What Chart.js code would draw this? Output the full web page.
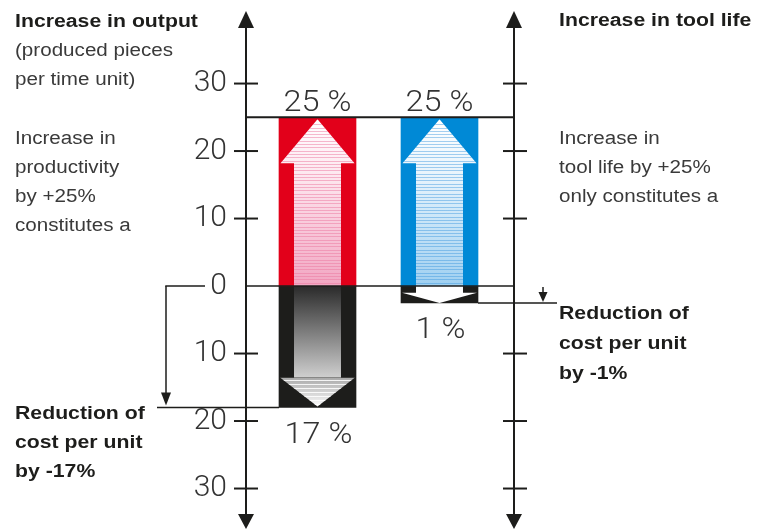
<!DOCTYPE html>
<html><head><meta charset="utf-8">
<script src="https://cdn.jsdelivr.net/npm/chart.js@4.4.1/dist/chart.umd.min.js"></script>
<style>html,body{margin:0;padding:0;background:#fff;}canvas{display:block;}</style>
</head><body>
<canvas id="c" width="763" height="531"></canvas>
<script>
// ---- data ----
const categories = ['Increase in output', 'Increase in tool life'];
const increaseValues = [25, 25];
const reductionValues = [-18, -2.5];
const increaseLabels = ['25 %', '25 %'];
const reductionLabels = ['17 %', '1 %'];
const yTickValues = [30, 20, 10, 0, -10, -20, -30];

const leftTitle = 'Increase in output';
const leftSub = ['(produced pieces', 'per time unit)'];
const leftBody = ['Increase in', 'productivity', 'by +25%', 'constitutes a'];
const rightTitle = 'Increase in tool life';
const rightBody = ['Increase in', 'tool life by +25%', 'only constitutes a'];
const leftResult = ['Reduction of', 'cost per unit', 'by -17%'];
const rightResult = ['Reduction of', 'cost per unit', 'by -1%'];

// ---- styles ----
const RED = '#e2001a', BLUE = '#0089d6', INK = '#1d1d1b', TXT = '#3a3a3a';
const SANS = '"Liberation Sans", Arial, Helvetica, sans-serif';
const NUMFONT = 'Roboto, "Liberation Sans", sans-serif';

function drawText(ctx, str, x, y, font, color, sx) {
  ctx.save();
  ctx.font = font; ctx.fillStyle = color; ctx.textBaseline = 'alphabetic'; ctx.textAlign = 'left';
  ctx.translate(x, y); ctx.scale(sx, 1);
  ctx.fillText(str, 0, 0);
  ctx.restore();
}
function drawCentered(ctx, str, x, y, font, color, sx) {
  ctx.save();
  ctx.font = font; ctx.fillStyle = color; ctx.textBaseline = 'alphabetic'; ctx.textAlign = 'center';
  ctx.translate(x, y); ctx.scale(sx, 1);
  ctx.fillText(str, 0, 0);
  ctx.restore();
}
function seg(ctx, x1, y1, x2, y2, w) {
  ctx.save(); ctx.strokeStyle = INK; ctx.lineWidth = w; ctx.lineCap = 'butt';
  ctx.beginPath(); ctx.moveTo(x1, y1); ctx.lineTo(x2, y2); ctx.stroke(); ctx.restore();
}
function tri(ctx, x1, y1, x2, y2, x3, y3) {
  ctx.save(); ctx.fillStyle = INK; ctx.beginPath();
  ctx.moveTo(x1, y1); ctx.lineTo(x2, y2); ctx.lineTo(x3, y3); ctx.closePath(); ctx.fill(); ctx.restore();
}
function stripes(ctx, x, y1, y2, w, color, step) {
  ctx.fillStyle = color;
  for (let yy = y1 + 1; yy < y2; yy += step) ctx.fillRect(x, Math.round(yy), w, 1);
}

function upArrow(ctx, cx, top, bottom, half, colors, stripeColor) {
  const shaftHalf = half * 0.61, headHalf = half - 1.5, headH = 44;
  ctx.save();
  ctx.beginPath();
  ctx.moveTo(cx, top);
  ctx.lineTo(cx + headHalf, top + headH);
  ctx.lineTo(cx + shaftHalf, top + headH);
  ctx.lineTo(cx + shaftHalf, bottom);
  ctx.lineTo(cx - shaftHalf, bottom);
  ctx.lineTo(cx - shaftHalf, top + headH);
  ctx.lineTo(cx - headHalf, top + headH);
  ctx.closePath();
  ctx.clip();
  const g = ctx.createLinearGradient(0, top, 0, bottom);
  g.addColorStop(0, colors[0]); g.addColorStop(0.35, colors[1]); g.addColorStop(1, colors[2]);
  ctx.fillStyle = g;
  ctx.fillRect(cx - half, top, half * 2, bottom - top);
  stripes(ctx, cx - half, top + 4, bottom, half * 2, stripeColor, 3.3);
  ctx.restore();
}

function downArrow(ctx, cx, top, bottom, half) {
  const h = bottom - top;
  const shaftHalf = half * 0.61, headHalf = half - 1;
  const headH = Math.min(30, h * 0.6);
  const hb = bottom - headH;
  ctx.save();
  if (h > 40) {
    const g = ctx.createLinearGradient(0, top, 0, hb);
    g.addColorStop(0, '#2a2a2a'); g.addColorStop(1, '#cfcfcf');
    ctx.fillStyle = g;
    ctx.fillRect(cx - shaftHalf, top, shaftHalf * 2, hb - top);
    ctx.beginPath();
    ctx.moveTo(cx - headHalf, hb); ctx.lineTo(cx + headHalf, hb); ctx.lineTo(cx, bottom - 1); ctx.closePath();
    ctx.clip();
    const g2 = ctx.createLinearGradient(0, hb, 0, bottom);
    g2.addColorStop(0, '#a9a9a9'); g2.addColorStop(1, '#ffffff');
    ctx.fillStyle = g2;
    ctx.fillRect(cx - half, hb, half * 2, headH);
    stripes(ctx, cx - half, hb + 1, bottom, half * 2, 'rgba(255,255,255,0.85)', 4);
  } else {
    ctx.fillStyle = '#ffffff';
    ctx.beginPath();
    ctx.moveTo(cx - shaftHalf, top); ctx.lineTo(cx + shaftHalf, top);
    ctx.lineTo(cx + shaftHalf, hb); ctx.lineTo(cx + headHalf, hb);
    ctx.lineTo(cx, bottom); ctx.lineTo(cx - headHalf, hb);
    ctx.lineTo(cx - shaftHalf, hb); ctx.closePath();
    ctx.fill();
  }
  ctx.restore();
}

const decor = {
  id: 'decor',
  afterDatasetsDraw(chart) {
    const { ctx, chartArea: ca, scales: { y } } = chart;
    const up = chart.getDatasetMeta(0).data, down = chart.getDatasetMeta(1).data;
    const arrowCols = [['#ffffff', '#fde6ee', '#f2a6c2'], ['#ffffff', '#e6f3fc', '#9fd0f1']];
    const stripeCols = ['rgba(236,120,160,0.5)', 'rgba(60,150,222,0.45)'];

    up.forEach((el, i) => {
      const p = el.getProps(['x', 'y', 'base', 'width'], true);
      const top = Math.min(p.y, p.base), bottom = Math.max(p.y, p.base);
      upArrow(ctx, p.x, top + 2, bottom, p.width / 2, arrowCols[i], stripeCols[i]);
    });
    down.forEach((el) => {
      const p = el.getProps(['x', 'y', 'base', 'width'], true);
      const top = Math.min(p.y, p.base), bottom = Math.max(p.y, p.base);
      downArrow(ctx, p.x, top, bottom, p.width / 2);
    });

    const axL = ca.left - 10.5, axR = ca.right + 13.5;
    // axes with arrowheads
    [axL, axR].forEach(ax => {
      seg(ctx, ax, ca.top + 12, ax, ca.bottom - 10, 2);
      tri(ctx, ax, ca.top - 1, ax - 8, ca.top + 16, ax + 8, ca.top + 16);
      tri(ctx, ax, ca.bottom + 2, ax - 8, ca.bottom - 13, ax + 8, ca.bottom - 13);
    });
    // tick marks
    yTickValues.forEach(v => {
      if (v === 0) return;
      const py = y.getPixelForValue(v);
      seg(ctx, axL - 12, py, axL + 12, py, 2);
      seg(ctx, axR - 11, py, axR + 13, py, 2);
    });
    // reference lines
    const y25 = y.getPixelForValue(increaseValues[0]);
    const y0 = y.getPixelForValue(0);
    seg(ctx, axL, y25, axR, y25, 2);
    seg(ctx, axL, y0, axR, y0, 1.5);

    const pL = down[0].getProps(['x', 'width'], true);
    const yr = y.getPixelForValue(reductionValues[0]);
    seg(ctx, axL - 89, yr, pL.x - pL.width / 2, yr, 1.5);
    seg(ctx, axL - 41, y0, axL - 80.75, y0, 1.5);
    seg(ctx, axL - 80, y0, axL - 80, yr - 12, 1.5);
    tri(ctx, axL - 80, yr - 2, axL - 85, yr - 15, axL - 75, yr - 15);

    const pR = down[1].getProps(['x', 'width'], true);
    const yr2 = y.getPixelForValue(reductionValues[1]);
    seg(ctx, pR.x + pR.width / 2, yr2, axR + 43, yr2, 1.5);
    seg(ctx, axR + 29, y0 + 1, axR + 29, yr2 - 9, 1.5);
    tri(ctx, axR + 29, yr2 - 1, axR + 24.5, yr2 - 11, axR + 33.5, yr2 - 11);

    // value labels
    const nf = '300 30px ' + NUMFONT;
    up.forEach((el, i) => {
      const p = el.getProps(['x', 'y', 'base'], true);
      drawCentered(ctx, increaseLabels[i], p.x, Math.min(p.y, p.base) - 6, nf, '#333', 1.08);
    });
    down.forEach((el, i) => {
      const p = el.getProps(['x', 'y', 'base'], true);
      drawCentered(ctx, reductionLabels[i], p.x + 1, Math.max(p.y, p.base) + 35, nf, '#333', 1.08);
    });

    // annotation text
    const bold = 'bold 18px ' + SANS, reg = '18px ' + SANS;
    drawText(ctx, leftTitle, 15, 27, bold, INK, 1.18);
    leftSub.forEach((s, i) => drawText(ctx, s, 15, 56 + i * 29, reg, TXT, 1.145));
    leftBody.forEach((s, i) => drawText(ctx, s, 15, 144 + i * 29, reg, TXT, 1.145));
    drawText(ctx, rightTitle, 559, 26, bold, INK, 1.18);
    rightBody.forEach((s, i) => drawText(ctx, s, 559, 144 + i * 29, reg, TXT, 1.145));
    leftResult.forEach((s, i) => drawText(ctx, s, 15, 419 + i * 29, bold, INK, 1.18));
    rightResult.forEach((s, i) => drawText(ctx, s, 559, 319 + i * 30, bold, INK, 1.18));
  }
};

new Chart(document.getElementById('c'), {
  type: 'bar',
  data: {
    labels: categories,
    datasets: [
      { label: 'Increase', data: increaseValues.map(v => [0, v]), backgroundColor: [RED, BLUE], borderWidth: 0, barThickness: 77 },
      { label: 'Reduction', data: reductionValues.map(v => [v, 0]), backgroundColor: INK, borderWidth: 0, barThickness: 77 }
    ]
  },
  options: {
    responsive: false,
    animation: false,
    devicePixelRatio: 1,
    layout: { padding: { left: 0, right: 262.5, top: 12, bottom: 4 } },
    plugins: { legend: { display: false }, tooltip: { enabled: false } },
    scales: {
      x: { display: false, stacked: true, offset: true },
      y: {
        min: -35.7, max: 40.6,
        afterBuildTicks: s => { s.ticks = yTickValues.map(v => ({ value: v })); },
        afterFit: s => { s.width = 256.5; s.paddingTop = 0; s.paddingBottom = 0; },
        grid: { display: false, drawTicks: false },
        border: { display: false },
        ticks: {
          padding: 29.5,
          color: '#333',
          font: { family: NUMFONT, size: 30, weight: '300' },
          callback: v => String(Math.abs(v))
        }
      }
    }
  },
  plugins: [decor]
});
</script>
</body></html>
